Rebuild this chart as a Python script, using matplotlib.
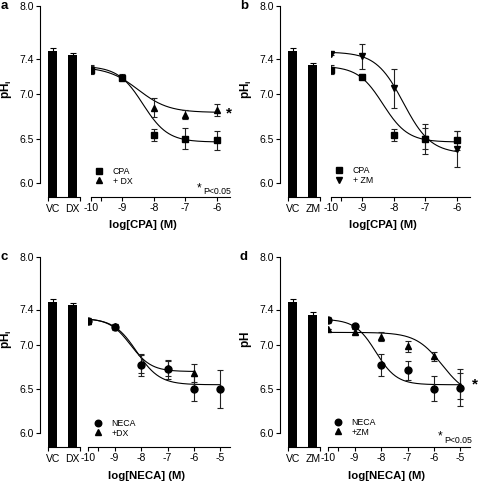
import numpy as np
import matplotlib
matplotlib.use('Agg')
import matplotlib.pyplot as plt
from matplotlib.lines import Line2D

plt.rcParams['font.family'] = ['Liberation Sans', 'DejaVu Sans']
plt.rcParams['mathtext.fontset'] = 'custom'
plt.rcParams['mathtext.rm'] = 'Liberation Sans'
plt.rcParams['mathtext.bf'] = 'Liberation Sans:bold'
plt.rcParams['axes.linewidth'] = 0.8

W, H = 480, 483

# ---------------- data ----------------
yticks = [6.0, 6.5, 7.0, 7.4, 8.0]
ytick_labels = ['6.0', '6.5', '7.0', '7.4', '8.0']

log_cpa = [-10, -9, -8, -7, -6]
log_neca = [-10, -9, -8, -7, -6, -5]
log_neca_dx = [-10, -9, -8, -7, -6]

# panel a
a_bar_labels = ['VC', 'DX']
a_bar_vals = [7.49, 7.45]
a_bar_err = [0.03, 0.02]
a_cpa = [7.28, 7.19, 6.54, 6.50, 6.48]
a_cpa_err = [0.05, 0.03, 0.07, 0.12, 0.11]
a_dx = [7.28, 7.20, 6.85, 6.77, 6.82]
a_dx_err = [0.04, 0.03, 0.11, 0.05, 0.07]
a_fit_cpa = [7.32, 6.46, -8.35, 1.1]   # top, bottom, logEC50, hill
a_fit_dx = [7.31, 6.795, -8.5, 0.9]

# panel b
b_bar_labels = ['VC', 'ZM']
b_bar_vals = [7.49, 7.33]
b_bar_err = [0.03, 0.03]
b_cpa = [7.28, 7.20, 6.54, 6.50, 6.48]
b_cpa_err = [0.05, 0.03, 0.07, 0.12, 0.11]
b_zm = [7.46, 7.43, 7.07, 6.49, 6.38]
b_zm_err = [0.01, 0.14, 0.22, 0.17, 0.20]
b_fit_cpa = [7.32, 6.46, -8.35, 1.1]
b_fit_zm = [7.48, 6.33, -7.7, 1.0]

# panel c
c_bar_labels = ['VC', 'DX']
c_bar_vals = [7.49, 7.45]
c_bar_err = [0.03, 0.02]
c_neca = [7.27, 7.20, 6.77, 6.72, 6.50, 6.50]
c_neca_err = [0.03, 0.03, 0.125, 0.11, 0.14, 0.215]
c_dx = [7.27, 7.21, 6.78, 6.73, 6.68]
c_dx_err = [0.03, 0.03, 0.10, 0.08, 0.10]
c_fit_neca = [7.30, 6.545, -8.17, 1.0]
c_fit_dx = [7.30, 6.695, -8.4, 1.1]

# panel d
d_bar_labels = ['VC', 'ZM']
d_bar_vals = [7.49, 7.34]
d_bar_err = [0.03, 0.03]
d_neca = [7.28, 7.21, 6.77, 6.71, 6.50, 6.51]
d_neca_err = [0.03, 0.03, 0.13, 0.11, 0.14, 0.21]
d_zm = [7.18, 7.15, 7.09, 6.98, 6.87, 6.53]
d_zm_err = [0.0, 0.03, 0.05, 0.06, 0.05, 0.15]
d_fit_neca = [7.29, 6.545, -8.2, 1.1]
d_fit_zm = [7.14, 6.40, -5.69, 0.87]


def hill(x, p):
    top, bottom, ec, n = p
    return bottom + (top - bottom) / (1 + 10 ** ((x - ec) * n))


fig = plt.figure(figsize=(W / 100, H / 100), dpi=100)


def px_axes(x0, y0, x1, y1):
    return fig.add_axes([x0 / W, 1 - y1 / H, (x1 - x0) / W, (y1 - y0) / H])


def fpt(x, y):
    return x / W, 1 - y / H


def draw_panel(ox, oy, y8, y6, ybot, letter, ylab, bar_labels, bar_vals, bar_err,
               series, xticks, x_m10, dec_px, cx0, cx1, xlabel, xlabel_x,
               leg_x, leg_y, star=None, pval=None):
    s = (y6 - y8) / 2.0
    ymin = 6.0 - (ybot - y6) / s
    # bar axes
    axb = px_axes(ox + 39.5, y8, ox + 80, ybot)
    axb.set_xlim(-0.66, 1.365)
    axb.set_ylim(ymin, 8.0)
    axb.bar([0, 1], bar_vals, width=0.45, color='black', zorder=2)
    axb.errorbar([0, 1], bar_vals, yerr=bar_err, fmt='none', ecolor='black',
                 elinewidth=0.8, capsize=2.5, capthick=0.8, zorder=1)
    for sp in ['top', 'right']:
        axb.spines[sp].set_visible(False)
    axb.spines['left'].set_bounds(6.0, 8.0)
    axb.spines['bottom'].set_bounds(-0.225, 1.365)
    axb.set_yticks(yticks)
    axb.set_yticklabels(ytick_labels)
    axb.tick_params(axis='y', length=3, width=0.8, pad=1, labelsize=7.5)
    axb.set_xticks([0, 1])
    axb.set_xticklabels(bar_labels)
    axb.set_xticks([-0.225, 1.365], minor=True)
    axb.tick_params(axis='x', which='major', length=0, pad=5, labelsize=7.5)
    axb.tick_params(axis='x', which='minor', length=3, width=0.8)

    # curve axes
    axc = px_axes(ox + cx0, y8, ox + cx1, ybot)
    xl = -10 - (cx0 - x_m10) / dec_px
    xr = -10 + (cx1 - x_m10) / dec_px
    axc.set_xlim(xl, xr)
    axc.set_ylim(ymin, 8.0)
    for sp in ['top', 'right', 'left']:
        axc.spines[sp].set_visible(False)
    axc.set_yticks([])
    axc.set_xticks(xticks)
    axc.set_xticklabels([str(t) for t in xticks])
    axc.set_xticks([xl], minor=True)
    axc.tick_params(axis='x', which='both', length=3, width=0.8, pad=1.5, labelsize=7.5)

    handles = []
    labels = []
    for xs, ys, es, fit, mk, ms, lab in series:
        xf = np.linspace(xs[0], xs[-1], 200)
        axc.plot(xf, hill(xf, fit), color='black', lw=0.8, zorder=2)
        axc.errorbar(xs, ys, yerr=es, fmt='none', ecolor='#222222', elinewidth=0.8,
                     capsize=2.5, capthick=0.8, zorder=3)
        axc.plot(xs, ys, linestyle='none', marker=mk, ms=ms, color='black', zorder=4)
        handles.append(Line2D([], [], linestyle='none', marker=mk, ms=ms - 0.3, color='black'))
        labels.append(lab)
    fs = 6.3
    fs_px = fs * 100 / 72
    hl = 1.0
    lx = ox + leg_x - hl * fs_px / 2
    leg = axc.legend(handles, labels, loc='upper left',
                     bbox_to_anchor=fpt(lx, oy + leg_y - 5.2),
                     bbox_transform=fig.transFigure, frameon=False, fontsize=fs,
                     handlelength=hl, handletextpad=1.05, labelspacing=0.05,
                     borderpad=0, borderaxespad=0)

    # texts
    fig.text(*fpt(ox + 4, oy + 6), letter, fontsize=9.5, fontweight='bold',
             ha='center', va='center')
    fig.text(*fpt(ox + 6.5, oy + 89), ylab, fontsize=8.5, fontweight='bold',
             rotation=90, ha='center', va='center')
    fig.text(*fpt(ox + xlabel_x, oy + 225), xlabel, fontsize=8.2, fontweight='bold',
             ha='center', va='center')
    if star is not None:
        fig.text(*fpt(ox + star[0], oy + star[1]), '*', fontsize=11, fontweight='bold',
                 ha='center', va='center')
    if pval is not None:
        fig.text(*fpt(ox + pval[0], oy + pval[1]), '*', fontsize=8.5,
                 ha='center', va='center')
        fig.text(*fpt(ox + pval[0] + 4.5, oy + pval[1] + 3.5), 'P<0.05', fontsize=6.3,
                 ha='left', va='center')


TOP = (0, 6, 182.7, 196.7)
BOT = (250.7, 256.7, 432.7, 446.7)

# panel a
draw_panel(0, TOP[0], TOP[1], TOP[2], TOP[3], 'a', r'$\mathbf{pH}_{\mathbf{i}}$',
           a_bar_labels, a_bar_vals, a_bar_err,
           [(log_cpa, a_cpa, a_cpa_err, a_fit_cpa, 's', 4.5, 'CPA'),
            (log_cpa, a_dx, a_dx_err, a_fit_dx, '^', 5, '+ DX')],
           log_cpa, 100, 29.43, 91, 230, 'log[CPA] (M)', 143,
           99, 172.3, star=(228.5, 113.3), pval=(199, 188))

# panel b
draw_panel(240, TOP[0], TOP[1], TOP[2], TOP[3], 'b', r'$\mathbf{pH}_{\mathbf{i}}$',
           b_bar_labels, b_bar_vals, b_bar_err,
           [(log_cpa, b_cpa, b_cpa_err, b_fit_cpa, 's', 4.5, 'CPA'),
            (log_cpa, b_zm, b_zm_err, b_fit_zm, 'v', 5, '+ ZM')],
           log_cpa, 100, 29.43, 91, 230, 'log[CPA] (M)', 143,
           99, 171.5)

# panel c
draw_panel(0, BOT[0], BOT[1], BOT[2], BOT[3], 'c', r'$\mathbf{pH}_{\mathbf{i}}$',
           c_bar_labels, c_bar_vals, c_bar_err,
           [(log_neca, c_neca, c_neca_err, c_fit_neca, 'o', 5, 'NECA'),
            (log_neca_dx, c_dx, c_dx_err, c_fit_dx, '^', 5, '+DX')],
           log_neca, 97.5, 24.7, 88.3, 230, 'log[NECA] (M)', 146.7,
           97.7, 173.6)

# panel d
draw_panel(240, BOT[0], BOT[1], BOT[2], BOT[3], 'd', r'$\mathbf{pH}$',
           d_bar_labels, d_bar_vals, d_bar_err,
           [(log_neca, d_neca, d_neca_err, d_fit_neca, 'o', 5, 'NECA'),
            (log_neca, d_zm, d_zm_err, d_fit_zm, '^', 5, '+ZM')],
           log_neca, 97.5, 24.7, 88.3, 230, 'log[NECA] (M)', 146.7,
           97.7, 172.6, star=(235, 133.3), pval=(200, 186))

fig.savefig('out.png', dpi=100)
